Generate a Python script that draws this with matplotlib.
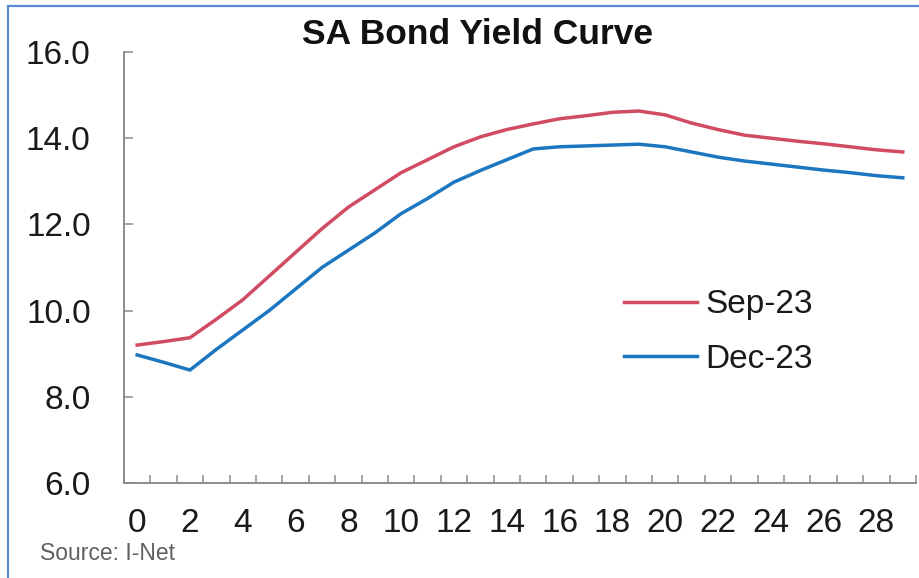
import matplotlib
matplotlib.use("Agg")
import matplotlib.pyplot as plt
from matplotlib.patches import Rectangle

# SA government bond yields (%) by term to maturity (years)
maturities = list(range(30))
sep_23 = [9.20, 9.28, 9.37, 9.80, 10.25, 10.80, 11.35, 11.90, 12.40, 12.80,
          13.20, 13.50, 13.80, 14.03, 14.20, 14.33, 14.45, 14.52, 14.60, 14.63,
          14.54, 14.35, 14.20, 14.07, 14.00, 13.93, 13.87, 13.80, 13.73, 13.68]
dec_23 = [8.97, 8.80, 8.62, 9.10, 9.55, 10.00, 10.50, 11.00, 11.40, 11.80,
          12.25, 12.60, 12.98, 13.25, 13.50, 13.75, 13.80, 13.82, 13.84, 13.86,
          13.80, 13.68, 13.56, 13.47, 13.40, 13.33, 13.26, 13.20, 13.13, 13.08]
y_ticks = [6, 8, 10, 12, 14, 16]

plt.rcParams['font.family'] = ['Liberation Sans', 'DejaVu Sans']

fig = plt.figure(figsize=(9.19, 5.78), dpi=100)
ax = fig.add_axes([0.1349, 0.1644, 0.8618, 0.7457])

ax.plot(maturities, sep_23, color='#D14B63', linewidth=2.5, label='Sep-23')
ax.plot(maturities, dec_23, color='#1C76C0', linewidth=2.5, label='Dec-23')

ax.set_xlim(-0.5, 29.5)
ax.set_ylim(6, 16)
ax.set_yticks(y_ticks)
ax.set_yticklabels([f'{v:.1f}' for v in y_ticks])

# category style axis: minor ticks on boundaries, labels every second year
ax.set_xticks([m for m in maturities if m % 2 == 0])
ax.set_xticklabels([str(m) for m in maturities if m % 2 == 0])
ax.set_xticks([m - 0.5 for m in maturities] + [29.5], minor=True)

gray = '#8C8C8C'
for side in ['top', 'right']:
    ax.spines[side].set_visible(False)
for side in ['left', 'bottom']:
    ax.spines[side].set_color(gray)
    ax.spines[side].set_linewidth(1.4)

ax.tick_params(axis='x', which='major', length=0, pad=18, labelsize=24, colors='#1a1a1a')
ax.tick_params(axis='x', which='minor', direction='in', length=5.5, width=1.1, color=gray)
ax.tick_params(axis='y', direction='in', length=6.5, width=1.1, color=gray,
               pad=24, labelsize=24, labelcolor='#1a1a1a')

leg = ax.legend(loc='center left', bbox_to_anchor=(607 / 919, 1 - 332 / 578),
                bbox_transform=fig.transFigure, frameon=False, fontsize=24,
                handlelength=2.2, handletextpad=0.25, labelspacing=0.7,
                borderpad=0)
for t in leg.get_texts():
    t.set_color('#1a1a1a')

fig.text(478 / 919, 1 - 34 / 578, 'SA Bond Yield Curve', ha='center', va='center',
         fontsize=25.5, fontweight='bold', color='#111111')
fig.text(40 / 919, 1 - 554 / 578, 'Source: I-Net', ha='left', va='center',
         fontsize=16.5, color='#606060')

# outer frame
fig.patches.append(Rectangle((8 / 919, -0.1), 1.2, 1.1 - 6 / 578,
                             transform=fig.transFigure, fill=False,
                             edgecolor='#5B8BD2', linewidth=1.6))

fig.savefig('out.png', dpi=100)
